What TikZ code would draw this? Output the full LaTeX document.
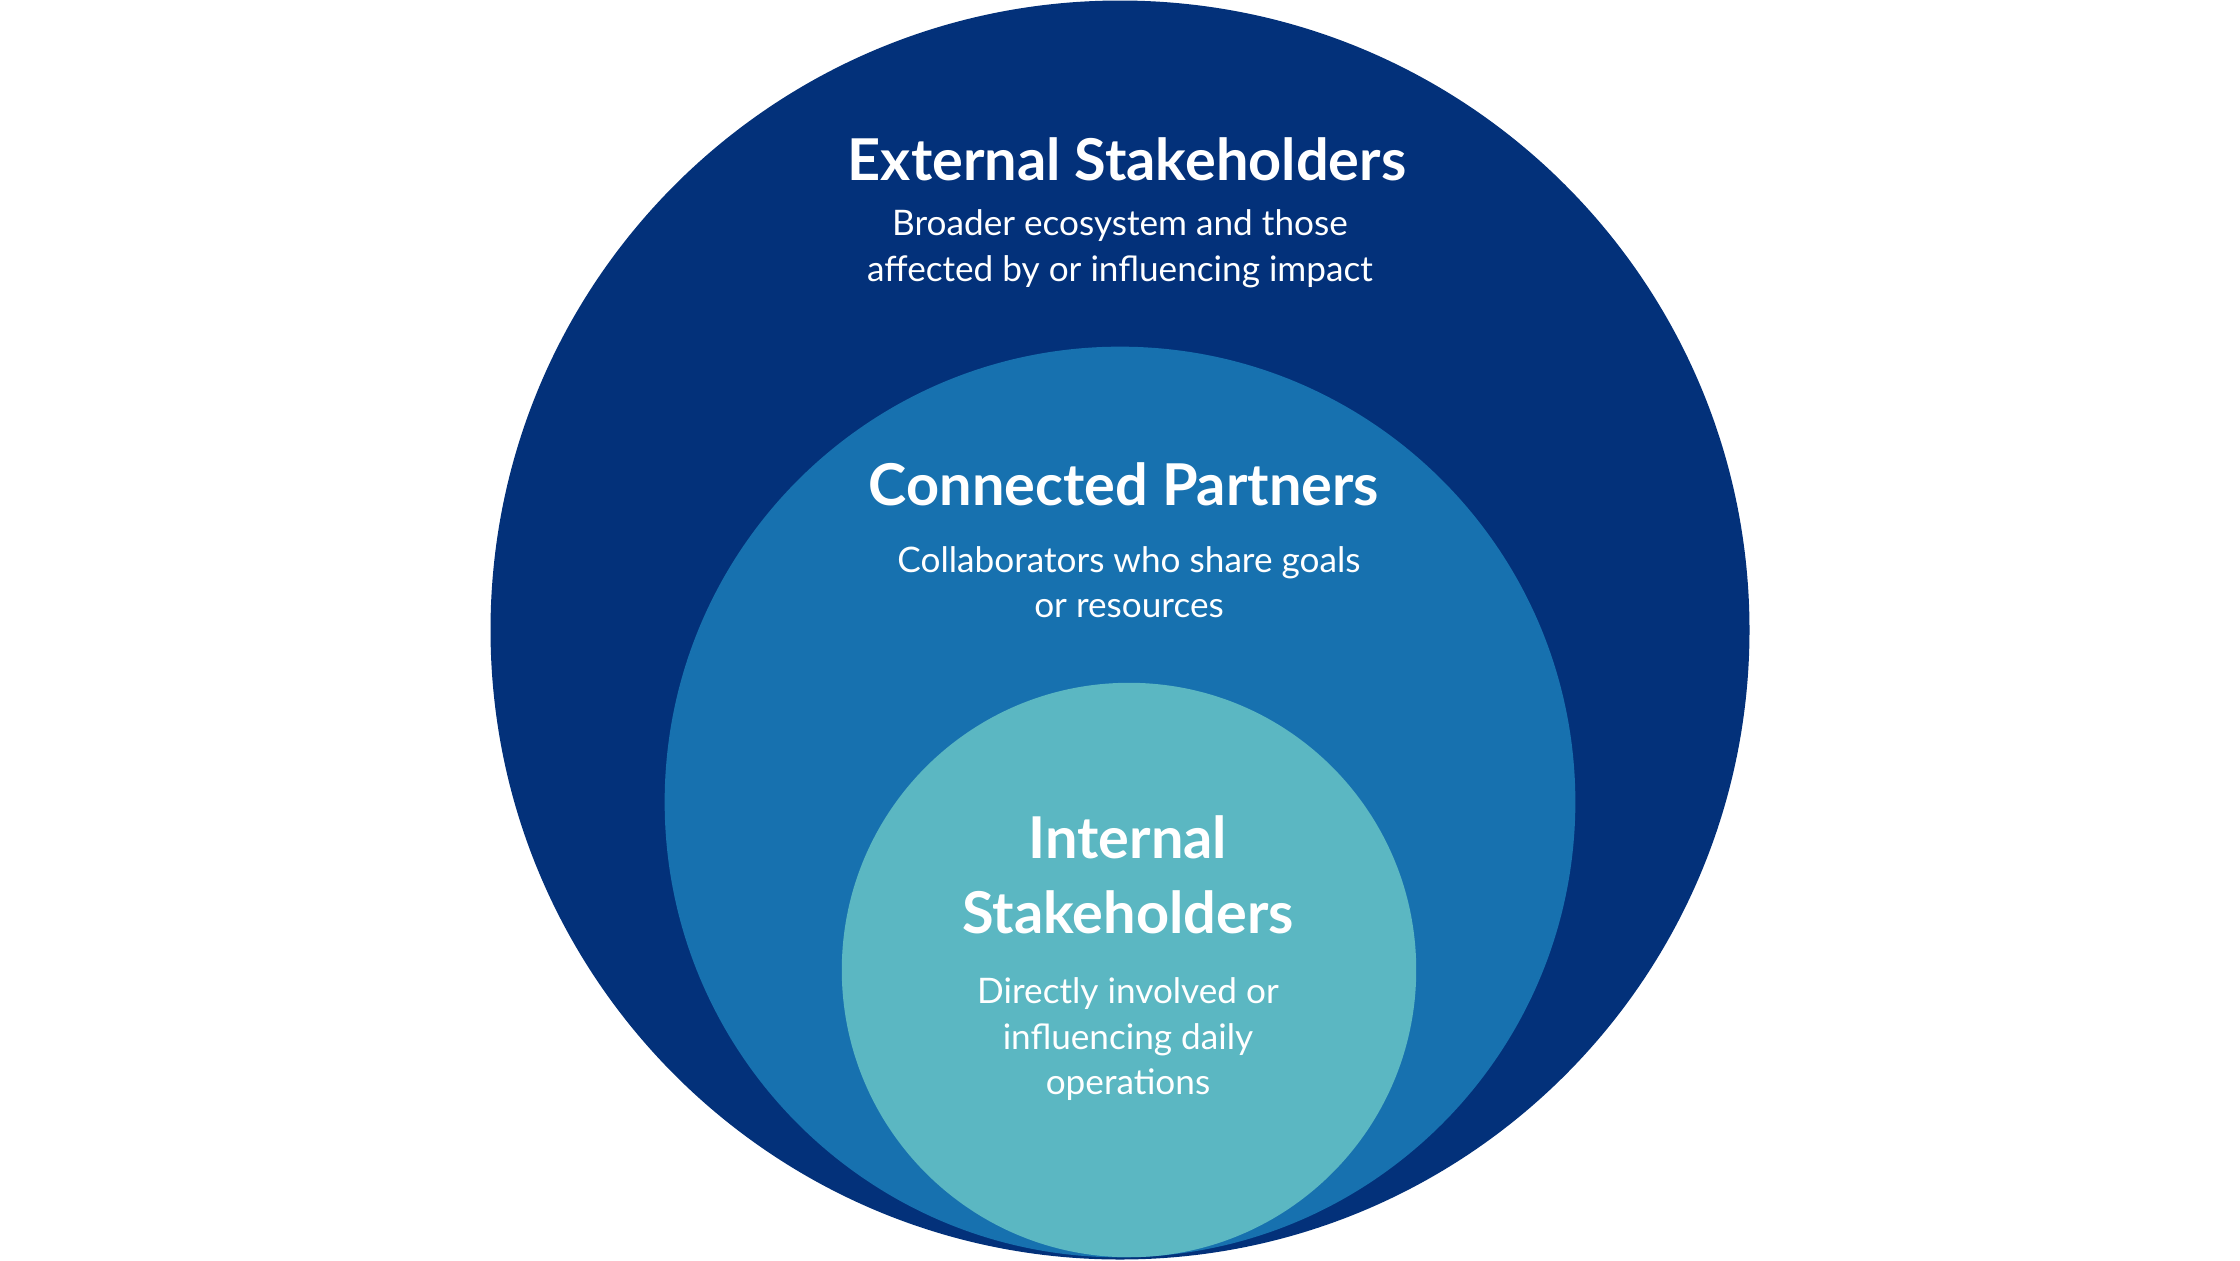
\documentclass[tikz,border=0pt]{standalone}
\usepackage{fontspec}
\setmainfont{Lato}
\usepackage{xcolor}
\usepackage{tikz}
\usetikzlibrary{positioning}
\definecolor{navyring}{HTML}{03317A}
\definecolor{midring}{HTML}{1771AF}
\definecolor{corering}{HTML}{5BB7C2}
\newcommand{\ring}[4]{%
  \node[circle, inner sep=0pt, minimum size=#3*0.02cm, fill=#4] (#1) at (#2) {};%
}

\begin{document}
\begin{tikzpicture}[x=0.01cm, y=-0.01cm,
    title/.style={font=\fontsize{16.4}{21.3}\selectfont\bfseries, text=white,
      align=center, anchor=base, inner sep=0pt},
    blurb/.style={font=\fontsize{10}{12.8}\selectfont, text=white,
      align=center, anchor=base, inner sep=0pt}]
  \useasboundingbox (0,0) rectangle (2240,1260);
  % rings, outside in
  \ring{outer}{1120,630}{629}{navyring}
  \ring{middle}{1120,802}{455}{midring}
  \ring{inner}{1129,970}{287}{corering}
  % labels (base = last line)
  \node[title] (exttitle) at (1127,180) {External Stakeholders};
  \node[blurb] (exttext) at (1120,281) {Broader ecosystem and those\\affected by or influencing impact};
  \node[title] (contitle) at (1124,505) {Connected Partners};
  \node[blurb] (context) at (1129,617) {Collaborators who share goals\\or resources};
  \node[title] (inttitle) at (1128,933) {Internal\\Stakeholders};
  \node[blurb] (inttext) at (1128,1094) {Directly involved or\\influencing daily\\operations};
\end{tikzpicture}
\end{document}
